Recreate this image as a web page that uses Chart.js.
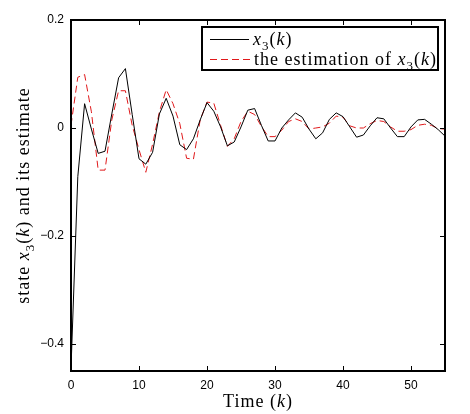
<!DOCTYPE html>
<html>
<head>
<meta charset="utf-8">
<script src="https://cdn.jsdelivr.net/npm/chart.js@4"></script>
<style>
  html, body { margin: 0; padding: 0; background: #fff; overflow: hidden; }
  #wrap { width: 470px; height: 414px; }
  canvas { display: block; }
</style>
</head>
<body>
<div id="wrap"><canvas id="chart" width="470" height="414"></canvas></div>
<script>
// time steps k
const TIME = [0, 1, 2, 3, 4, 5, 6, 7, 8, 9, 10, 11, 12, 13, 14, 15, 16, 17, 18, 19,
              20, 21, 22, 23, 24, 25, 26, 27, 28, 29, 30, 31, 32, 33, 34, 35, 36, 37, 38, 39,
              40, 41, 42, 43, 44, 45, 46, 47, 48, 49, 50, 51, 52, 53, 54, 55];

// x3(k)
const X3 = [-0.445, -0.09, 0.045, -0.002, -0.047, -0.043, 0.026, 0.093, 0.110, 0.025,
            -0.057, -0.067, -0.045, 0.026, 0.055, 0.022, -0.031, -0.040, -0.020, 0.015,
            0.047, 0.031, 0.002, -0.033, -0.026, 0.002, 0.033, 0.036, 0.005, -0.024,
            -0.024, 0.000, 0.015, 0.028, 0.020, -0.002, -0.020, -0.009, 0.016, 0.028,
            0.021, 0.002, -0.017, -0.013, 0.004, 0.019, 0.017, 0.000, -0.016, -0.016,
            0.002, 0.015, 0.016, 0.007, -0.003, -0.015];

// estimativa de x3(k)
const X3_EST = [0.005, 0.094, 0.099, 0.030, -0.078, -0.078, 0.015, 0.069, 0.069, 0.005,
                -0.040, -0.082, -0.030, 0.030, 0.071, 0.045, 0.008, -0.056, -0.058, 0.015,
                0.048, 0.046, 0.005, -0.034, -0.020, 0.012, 0.031, 0.025, 0.003, -0.016,
                -0.016, -0.004, 0.012, 0.017, 0.012, -0.002, 0.000, 0.002, 0.009, 0.022,
                0.020, 0.004, 0.000, 0.000, 0.008, 0.014, 0.012, 0.002, -0.006, -0.006,
                -0.003, 0.005, 0.007, 0.005, -0.001, -0.002];

const X_TICKS = [0, 10, 20, 30, 40, 50];
const Y_TICKS = [-0.4, -0.2, 0, 0.2];

const SANS = '"Liberation Sans", Arial, sans-serif';
const SERIF = '"Liberation Serif", "Times New Roman", serif';
const RED = '#e0191b';

// desenha texto com trechos em itálico / subscrito
function drawRich(ctx, parts, x, y, size, align) {
    const fontOf = p => {
        const s = p.sub ? Math.round(size * 0.7) : size;
        return (p.it ? 'italic ' : '') + s + 'px ' + SERIF;
    };
    ctx.letterSpacing = '1px';
    let total = 0;
    parts.forEach(p => { ctx.font = fontOf(p); total += ctx.measureText(p.t).width; });
    let cx = align === 'center' ? x - total / 2 : x;
    ctx.textAlign = 'left';
    parts.forEach(p => {
        ctx.font = fontOf(p);
        ctx.fillText(p.t, cx, p.sub ? y + size * 0.25 : y);
        cx += ctx.measureText(p.t).width;
    });
    ctx.letterSpacing = '0px';
}

const X3_PARTS = [{ t: 'x', it: true }, { t: '3', sub: true }, { t: '(' }, { t: 'k', it: true }, { t: ')' }];

const matlabFrame = {
    id: 'matlabFrame',
    afterDraw(chart) {
        const { ctx, chartArea: a, scales } = chart;
        const L = Math.round(a.left), R = Math.round(a.right);
        const T = Math.round(a.top), B = Math.round(a.bottom);
        ctx.save();
        ctx.fillStyle = '#000';

        // caixa (retângulos cheios, 2px)
        ctx.fillRect(L - 1, T - 1, R - L + 2, 2);
        ctx.fillRect(L - 1, B - 1, R - L + 2, 2);
        ctx.fillRect(L - 1, T - 1, 2, B - T + 2);
        ctx.fillRect(R - 1, T - 1, 2, B - T + 2);

        // ticks para dentro
        const tl = 5;
        X_TICKS.forEach(v => {
            const px = Math.round(scales.x.getPixelForValue(v));
            ctx.fillRect(px, B - tl, 1, tl);
            ctx.fillRect(px, T, 1, tl);
        });
        Y_TICKS.forEach(v => {
            const py = Math.round(scales.y.getPixelForValue(v));
            ctx.fillRect(L, py, tl, 1);
            ctx.fillRect(R - tl, py, tl, 1);
        });

        // títulos dos eixos
        ctx.textBaseline = 'alphabetic';
        drawRich(ctx, [{ t: 'Time (' }, { t: 'k', it: true }, { t: ')' }],
                 (L + R) / 2, 407, 18, 'center');

        ctx.save();
        ctx.translate(29, (T + B) / 2);
        ctx.rotate(-Math.PI / 2);
        drawRich(ctx, [{ t: 'state ' }].concat(X3_PARTS, [{ t: ' and its estimate' }]),
                 0, 0, 18, 'center');
        ctx.restore();

        // legenda
        const bx = 202, by = 27, bw = 236, bh = 43;
        ctx.fillStyle = '#fff';
        ctx.fillRect(bx, by, bw, bh);
        ctx.fillStyle = '#000';
        ctx.fillRect(bx - 1, by - 1, bw + 2, 2);
        ctx.fillRect(bx - 1, by + bh - 1, bw + 2, 2);
        ctx.fillRect(bx - 1, by - 1, 2, bh + 2);
        ctx.fillRect(bx + bw - 1, by - 1, 2, bh + 2);

        ctx.lineWidth = 1;
        ctx.beginPath();
        ctx.moveTo(210, 39.5); ctx.lineTo(249, 39.5);
        ctx.strokeStyle = '#000';
        ctx.stroke();

        ctx.beginPath();
        ctx.setLineDash([7, 4]);
        ctx.moveTo(210, 59.5); ctx.lineTo(251, 59.5);
        ctx.strokeStyle = RED;
        ctx.stroke();
        ctx.setLineDash([]);

        ctx.fillStyle = '#000';
        drawRich(ctx, X3_PARTS, 253, 45, 18, 'left');
        drawRich(ctx, [{ t: 'the estimation of ' }].concat(X3_PARTS), 254, 65, 18, 'left');
        ctx.restore();
    }
};

const fmtY = v => v === 0 ? '0' : (v < 0 ? '\u2212' : '') + Math.abs(v).toFixed(1);

new Chart(document.getElementById('chart'), {
    type: 'line',
    data: {
        datasets: [
            {
                label: 'x3(k)',
                data: TIME.map((t, i) => ({ x: t, y: X3[i] })),
                borderColor: '#000',
                borderWidth: 1,
                pointRadius: 0,
                tension: 0,
                fill: false
            },
            {
                label: 'the estimation of x3(k)',
                data: TIME.map((t, i) => ({ x: t, y: X3_EST[i] })),
                borderColor: RED,
                borderWidth: 1,
                borderDash: [7, 4],
                pointRadius: 0,
                tension: 0,
                fill: false
            }
        ]
    },
    options: {
        responsive: false,
        animation: false,
        layout: { padding: { left: 40, right: 25, top: 20, bottom: 0 } },
        plugins: {
            legend: { display: false },
            tooltip: { enabled: false }
        },
        scales: {
            x: {
                type: 'linear',
                min: 0,
                max: 55,
                afterBuildTicks: s => { s.ticks = X_TICKS.map(v => ({ value: v })); },
                afterFit: s => { s.height = 43; },
                grid: { display: false, drawTicks: false },
                border: { display: false },
                ticks: { font: { family: SANS, size: 12 }, color: '#000', padding: 7, maxRotation: 0 }
            },
            y: {
                type: 'linear',
                min: -0.45,
                max: 0.2,
                afterBuildTicks: s => { s.ticks = Y_TICKS.map(v => ({ value: v })); },
                afterFit: s => { s.width = 31; },
                grid: { display: false, drawTicks: false },
                border: { display: false },
                ticks: { font: { family: SANS, size: 12 }, color: '#000', padding: 7, callback: fmtY }
            }
        }
    },
    plugins: [matlabFrame]
});
</script>
</body>
</html>
